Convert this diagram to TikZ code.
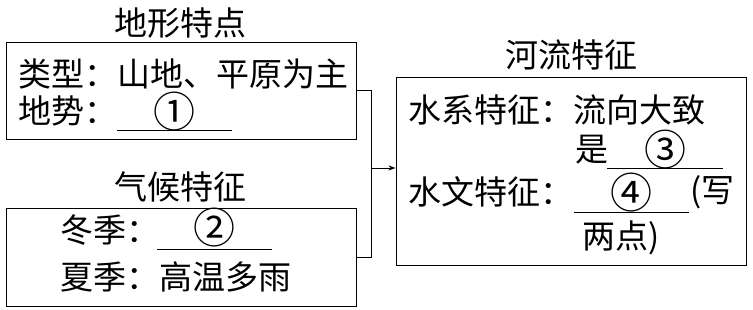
\documentclass[tikz,border=0pt]{standalone}
\usepackage{fontspec}
\newfontfamily\cjk{Noto Sans CJK SC}
\usetikzlibrary{arrows.meta,positioning}
\tikzset{
  panel/.style={draw,line width=0.9pt,minimum width=350pt,inner sep=0pt},
  txt/.style={anchor=west,inner sep=0pt,font=\cjk\fontsize{33}{38}\selectfont},
  title/.style={inner sep=0pt,font=\cjk\fontsize{33}{38}\selectfont},
  gap/.style={anchor=south,minimum width=115pt,inner xsep=0pt,inner ysep=2pt,
    text depth=0pt,font=\cjk\fontsize{42}{46}\selectfont},
  arr/.style={-{Stealth[length=7pt,width=5pt]},line width=0.9pt},
  link/.style={line width=0.9pt}
}

\begin{document}
\begin{tikzpicture}[x=1pt,y=1pt]
  \useasboundingbox (0,0) rectangle (753,309);
  \node[title] (tTerrain) at (180,286) {地形特点};
  \node[panel,minimum height=97pt] (terrain) at (181,218.5) {};
  \node[txt] (type) at (18,235.5) {类型：山地、平原为主};
  \node[txt] (slope) at (18,198) {地势：};
  \node[gap] (gapA) at (174.5,179) {①};

  \node[title] (tClimate) at (180,122) {气候特征};
  \node[panel,minimum height=98pt] (climate) at (181,52) {};
  \node[txt] (winter) at (60,79) {冬季：};
  \node[gap,inner ysep=5pt] (gapB) at (214.5,60) {②};
  \node[txt] (summer) at (60,32) {夏季：高温多雨};

  \node[title] (tRiver) at (571,254) {河流特征};
  \node[panel,minimum height=188pt] (river) at (571,138) {};
  \node[txt] (system) at (408,199) {水系特征：流向大致};
  \node[txt] (shi) at (575,159) {是};
  \node[gap] (gapC) at (665,141) {③};
  \node[txt] (hydro) at (408,117) {水文特征：};
  \node[gap,inner ysep=3pt] (gapD) at (631.5,97) {④};
  \node[txt] (write) at (690,117) {(写};
  \node[txt] (two) at (582,71) {两点)};

  \foreach \g in {gapA,gapB,gapC,gapD}
    \draw[link] (\g.south west) -- (\g.south east);

  \draw[link] (terrain.east) -- ++(15,0) |- (climate.east);
  \coordinate (join) at (371,141);
  \draw[arr] (join) -- (join -| river.west);
\end{tikzpicture}
\end{document}
